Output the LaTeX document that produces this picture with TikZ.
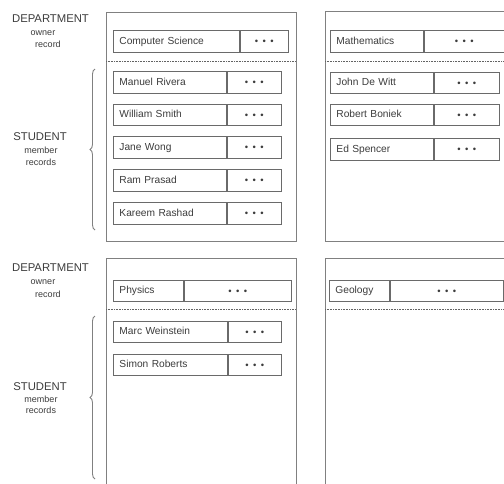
\documentclass[tikz,border=0pt]{standalone}
\usepackage{fontspec}
\setmainfont{Liberation Sans}
\usetikzlibrary{decorations.pathreplacing}
\definecolor{ink}{HTML}{3C3C3C}
\definecolor{frame}{HTML}{808080}
\definecolor{cellline}{HTML}{6A6A6A}
\newcommand{\threedots}{{\fontsize{9.5}{9.5}\selectfont •\hspace{4.4pt}•\hspace{4.4pt}•}}
% one record: name, x, y (top), width of name cell, width of dots cell, text
\newcommand{\rec}[6]{%
  \pgfmathsetmacro\tw{#4-12}%
  \node[namecell, text width=\tw pt, anchor=north west] (#1) at (#2,#3) {#6};
  \node[dotcell, minimum width=#5pt, anchor=north west] (#1d) at (#1.north east) {\threedots};
}
\begin{document}
\begin{tikzpicture}[x=1pt, y=-1pt,
  namecell/.style={draw=cellline, line width=0.9pt, minimum height=21.5pt, inner xsep=6pt,
    inner ysep=0pt, text height=7.6pt, text depth=1.6pt, align=left, text=ink,
    font=\fontsize{10.2}{11}\selectfont},
  dotcell/.style={draw=cellline, line width=0.9pt, minimum height=21.5pt, inner sep=0pt,
    text height=7pt, text depth=0pt, text=ink},
  panel/.style={draw=frame, line width=0.9pt},
  divider/.style={draw=ink!80, line width=0.9pt, dash pattern=on 0.9pt off 0.7pt},
  bigtag/.style={text=ink, font=\fontsize{11.3}{11.3}\selectfont, inner sep=0pt},
  smalltag/.style={text=ink, font=\fontsize{9}{9}\selectfont, inner sep=0pt},
  bracket/.style={draw=frame, line width=0.9pt, decorate,
    decoration={brace, amplitude=5pt, aspect=0.5}}]
\useasboundingbox (0,0) rectangle (504,483);
\clip (0,0) rectangle (504,483);
\fill[white] (0,0) rectangle (504,483);

% panels (the right-hand ones and the lower ones run past the edge)
\draw[panel] (106,12) rectangle (296,241);
\draw[panel] (325,11) rectangle (530,241);
\draw[panel] (106,258) rectangle (296,500);
\draw[panel] (325,258) rectangle (530,500);

% owner / member separators
\draw[divider] (106,61) -- (296,61);
\draw[divider] (325,61) -- (530,61);
\draw[divider] (106,309.5) -- (296,309.5);
\draw[divider] (325,309.5) -- (530,309.5);

% owner records
\rec{cs}{113}{30}{126}{48}{Computer Science}
\rec{math}{330}{30}{93}{80}{Mathematics}
\rec{phys}{113}{279.5}{70}{107}{Physics}
\rec{geo}{329}{279.5}{60}{113}{Geology}

% member records
\rec{mr}{113}{71}{113}{54}{Manuel Rivera}
\rec{ws}{113}{103.5}{113}{54}{William Smith}
\rec{jw}{113}{136}{113}{54}{Jane Wong}
\rec{rp}{113}{169}{113}{54}{Ram Prasad}
\rec{kr}{113}{202}{113}{54}{Kareem Rashad}

\rec{jd}{330}{71.5}{103}{65}{John De Witt}
\rec{rb}{330}{103.5}{103}{65}{Robert Boniek}
\rec{es}{330}{138}{103}{65}{Ed Spencer}

\rec{mw}{113}{320.5}{114}{53}{Marc Weinstein}
\rec{sr}{113}{353.5}{114}{53}{Simon Roberts}

% side labels
\node[bigtag] (dep1) at (50.5,19) {DEPARTMENT};
\node[smalltag] (own1) at (43,33.5) {owner};
\node[smalltag] (rec1) at (48,44.5) {record};
\node[bigtag] (stu1) at (40,137) {STUDENT};
\node[smalltag] (mem1) at (41,150.5) {member};
\node[smalltag] (recs1) at (41,162) {records};

\node[bigtag] (dep2) at (50.5,268) {DEPARTMENT};
\node[smalltag] (own2) at (43,282.5) {owner};
\node[smalltag] (rec2) at (48,294) {record};
\node[bigtag] (stu2) at (40,387) {STUDENT};
\node[smalltag] (mem2) at (41,399) {member};
\node[smalltag] (recs2) at (41,410.5) {records};

% braces gathering the member records
\coordinate (b1top) at (95,69);
\coordinate (b1bot) at (95,230);
\coordinate (b2top) at (95,316);
\coordinate (b2bot) at (95,479);
\draw[bracket] (b1bot) -- (b1top);
\draw[bracket] (b2bot) -- (b2top);
\end{tikzpicture}
\end{document}
